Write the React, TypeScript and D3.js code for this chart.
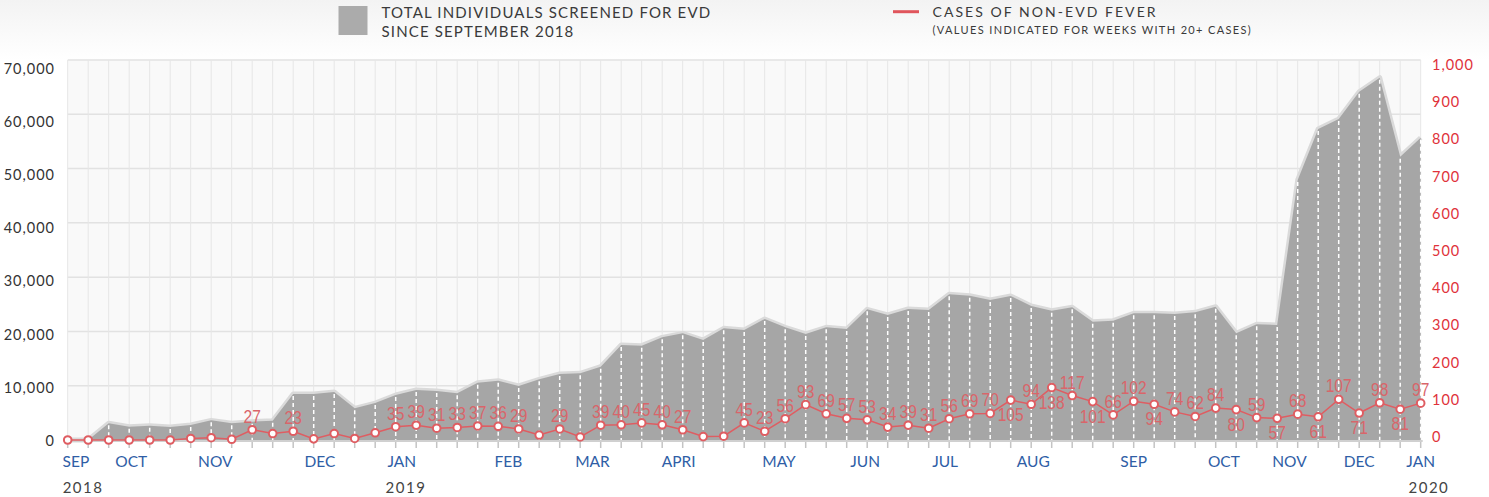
import * as d3 from 'd3';

// weekly totals, Sep 2018 – Jan 2020
const screened = [
  0, 0, 3080, 2450, 2630, 2400, 2760, 3620, 3070, 3380, 3560,
  8470, 8470, 8840, 5830, 6800,
  8290, 9210, 9030, 8600, 10560, 10930, 9950,
  11180, 12160, 12280, 13510, 17500, 17380, 18910, 19650,
  18420, 20570, 20260, 22290, 20750, 19530, 20750, 20450,
  24070, 23030, 24130, 23950, 26830, 26590, 25790,
  26530, 24680, 23820, 24440, 21790, 21980, 23330,
  23330, 23210, 23520, 24560, 19650, 21310, 21180,
  47890, 57290, 59130, 64160, 66740, 52190, 55680,
];

const fever = [
  0, 0, 0, 0, 0, 0, 4, 6, 2, 27, 17, 23, 3, 17, 4, 19,
  35, 39, 31, 33, 37, 36, 29, 13, 29, 8,
  39, 40, 45, 40, 27, 9, 10, 45, 23, 56,
  93, 69, 57, 53, 34, 39, 31, 56, 69, 70,
  105, 94, 138, 117, 101, 66, 102, 94, 74, 62,
  84, 80, 59, 57, 68, 61, 107, 71, 98, 81, 97,
];

// weeks whose value label sits under the point
const labelBelow = [46, 48, 50, 53, 57, 59, 61, 63, 65];

const months = ['SEP', 'OCT', 'NOV', 'DEC', 'JAN', 'FEB', 'MAR', 'APRI', 'MAY', 'JUN', 'JUL', 'AUG', 'SEP', 'OCT', 'NOV', 'DEC', 'JAN'];
const monthWeek = [0.4, 3.1, 7.2, 12.3, 16.3, 21.5, 25.6, 29.8, 34.7, 38.9, 42.8, 47.1, 52.0, 56.4, 59.6, 63.0, 66.0];
const years = ['2018', '2019', '2020'];
const yearWeek = [0.75, 16.5, 66.4];

const leftTicks = [0, 10000, 20000, 30000, 40000, 50000, 60000, 70000];
const rightTicks = [0, 100, 200, 300, 400, 500, 600, 700, 800, 900, 1000];

const W = 1489;
const H = 497;
const m = { top: 60, left: 67.7, right: 1420.7, bottom: 440 };

const GRID = '#e6e6e6';
const RED = '#df5d62';
const LABEL_FONT = "'Liberation Sans', Arial, sans-serif";
const UI_FONT = "Lato, 'Open Sans', sans-serif";

export default function App() {
  const idx = d3.range(screened.length);
  const x = d3.scaleLinear().domain([0, screened.length - 1]).range([m.left, m.right]);
  const yL = d3.scaleLinear().domain([0, 70000]).range([m.bottom, m.top]);
  const yR = d3.scaleLinear().domain([0, 1000]).range([m.bottom, m.top]);
  // tick text sits on its own slightly tighter ladder, as in the source graphic
  const yLText = d3.scaleLinear().domain([0, 70000]).range([446, 73.5]);
  const yRText = d3.scaleLinear().domain([0, 1000]).range([442, 70]);

  const area = d3.area<number>().x((i) => x(i)).y0(yL(0)).y1((i) => yL(screened[i]));
  const top = d3.line<number>().x((i) => x(i)).y((i) => yL(screened[i]));
  const feverLine = d3.line<number>().x((i) => x(i)).y((i) => yR(fever[i]));
  const fmt = d3.format(',');

  return (
    <svg width={W} height={H} style={{ position: 'absolute', left: 0, top: 0, background: '#fff' }}>
      <defs>
        <linearGradient id="bg" x1="0" y1="0" x2="0" y2="1">
          <stop offset="0" stopColor="#f3f3f3" />
          <stop offset="1" stopColor="#ffffff" />
        </linearGradient>
      </defs>
      <rect x={0} y={0} width={W} height={m.top} fill="url(#bg)" />

      {/* legend */}
      <rect x={338.5} y={6} width={29} height={29} fill="#ababab" />
      <g fontFamily={UI_FONT} fill="#3a3a3a" fontSize={15} letterSpacing={1.15}>
        <text x={381.5} y={18.3}>TOTAL INDIVIDUALS SCREENED FOR EVD</text>
        <text x={381.5} y={37.3}>SINCE SEPTEMBER 2018</text>
        <text x={932.5} y={17.3} fontSize={14} letterSpacing={2.05}>CASES OF NON-EVD FEVER</text>
        <text x={932.5} y={34} fontSize={11} letterSpacing={1.35}>(VALUES INDICATED FOR WEEKS WITH 20+ CASES)</text>
      </g>
      <line x1={893} x2={919} y1={11.7} y2={11.7} stroke="#e0555c" strokeWidth={3} />

      {/* plot background + grid */}
      <rect x={m.left} y={m.top} width={m.right - m.left} height={m.bottom - m.top} fill="#f9f9f9" />
      {leftTicks.map((t) => (
        <line key={t} x1={m.left} x2={m.right} y1={yL(t)} y2={yL(t)} stroke="#e2e2e2" strokeWidth={1.5} />
      ))}
      {idx.map((i) => (
        <line key={i} x1={x(i)} x2={x(i)} y1={m.top} y2={m.bottom} stroke={GRID} strokeWidth={1} />
      ))}

      {/* screened area */}
      <path d={top(idx) ?? ''} fill="none" stroke="#dadada" strokeWidth={5} strokeLinejoin="round" />
      <path d={area(idx) ?? ''} fill="#a6a6a6" />
      {idx.map((i) =>
        screened[i] > 0 ? (
          <line key={i} x1={x(i)} x2={x(i)} y1={yL(screened[i]) + 2} y2={m.bottom} stroke="#fff" strokeWidth={1.5} strokeDasharray="4,3" />
        ) : null,
      )}

      {/* baseline + ticks */}
      <line x1={m.left - 2} x2={m.right + 2} y1={m.bottom + 1} y2={m.bottom + 1} stroke="#d0d0d0" strokeWidth={2} />
      {idx.map((i) => (
        <line key={i} x1={x(i)} x2={x(i)} y1={m.bottom + 2} y2={m.bottom + 8} stroke="#c4c4c4" strokeWidth={1.5} />
      ))}

      {/* fever line */}
      <path d={feverLine(idx) ?? ''} fill="none" stroke={RED} strokeWidth={1.5} />
      {idx.map((i) => (
        <circle key={i} cx={x(i)} cy={yR(fever[i])} r={3.8} fill="#fff" stroke={RED} strokeWidth={2} />
      ))}
      <g fontFamily={LABEL_FONT} fontSize={19} fill="#d9656a" textAnchor="middle">
        {idx
          .filter((i) => fever[i] >= 20)
          .map((i) => (
            <text
              key={i}
              transform={`translate(${x(i)},${yR(fever[i]) + (labelBelow.includes(i) ? 21 : -7)}) scale(0.82,1)`}
            >
              {fever[i]}
            </text>
          ))}
      </g>

      {/* left axis */}
      <g fontFamily={UI_FONT} fontSize={14.5} fill="#333" textAnchor="end" letterSpacing={1}>
        {leftTicks.map((t) => (
          <text key={t} x={55} y={yLText(t)}>
            {fmt(t)}
          </text>
        ))}
      </g>

      {/* right axis */}
      <g fontFamily={UI_FONT} fontSize={14.5} fill="#e0323a" textAnchor="start" letterSpacing={1}>
        {rightTicks.map((t) => (
          <text key={t} x={1432} y={yRText(t)}>
            {fmt(t)}
          </text>
        ))}
      </g>

      {/* x axis labels */}
      <g fontFamily={UI_FONT} fontSize={15.5} fill="#2f5ea6" textAnchor="middle">
        {months.map((mo, i) => (
          <text key={i} x={x(monthWeek[i])} y={467}>
            {mo}
          </text>
        ))}
      </g>
      <g fontFamily={UI_FONT} fontSize={15} fill="#444" textAnchor="middle" letterSpacing={1.5}>
        {years.map((yr, i) => (
          <text key={yr} x={x(yearWeek[i])} y={493}>
            {yr}
          </text>
        ))}
      </g>
    </svg>
  );
}
